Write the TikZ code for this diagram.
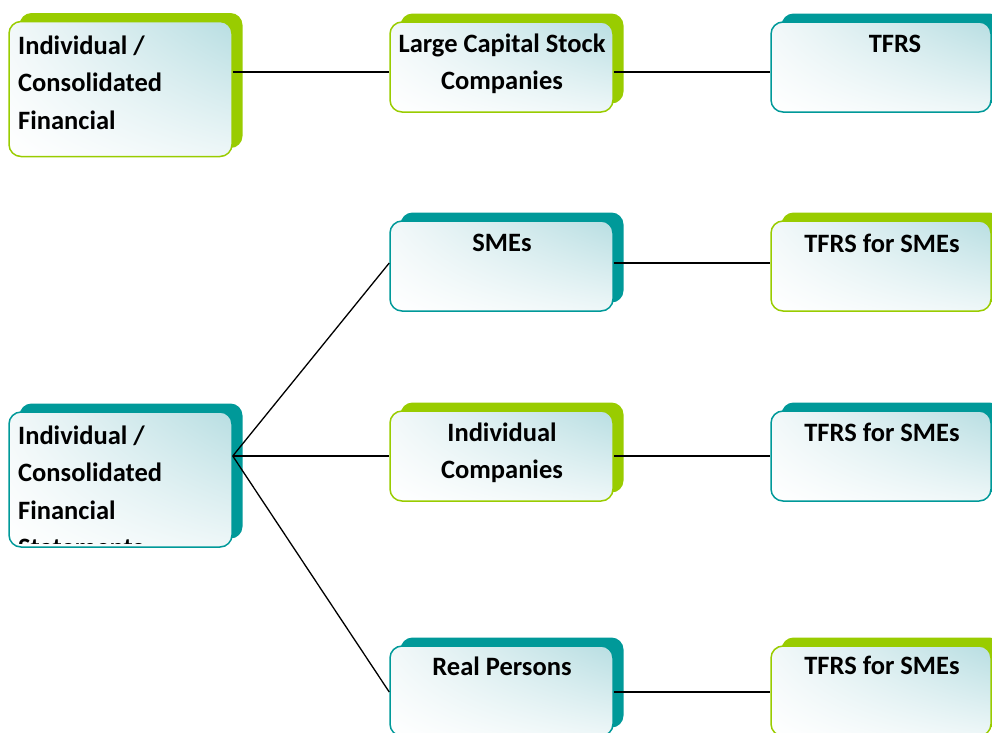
\documentclass[tikz,border=0pt]{standalone}
\usepackage{fontspec}
\setmainfont{Carlito}
\usetikzlibrary{shadows,shadings}

\definecolor{leafgreen}{RGB}{153,204,0}
\definecolor{seateal}{RGB}{0,153,153}
\definecolor{mistTR}{RGB}{184,222,226}
\definecolor{mistTL}{RGB}{242,248,249}
\definecolor{mistBR}{RGB}{238,247,248}

% multi-line labels whose baseline is the first line's
\newcommand{\leftlines}[1]{\vtop{\halign{##\hfil\cr#1\crcr}}}
\newcommand{\midlines}[1]{\vtop{\halign{\hfil##\hfil\cr#1\crcr}}}

\tikzset{
  card/.style={rounded corners=12pt, line width=1.5pt, inner sep=0pt,
    minimum width=223pt, minimum height=90pt,
    upper right=mistTR, upper left=mistTL, lower right=mistBR, lower left=white},
  greencard/.style={card, draw=leafgreen,
    copy shadow={shadow xshift=10.5pt, shadow yshift=8.5pt, fill=leafgreen, draw=none}},
  tealcard/.style={card, draw=seateal,
    copy shadow={shadow xshift=10.5pt, shadow yshift=8.5pt, fill=seateal, draw=none}},
  tallcard/.style={minimum height=135pt},
  rightcard/.style={minimum width=220pt},
  cardtext/.style={font=\fontsize{26.5}{37.5}\selectfont\bfseries, inner sep=0pt, text=black},
  link/.style={draw=black, line width=1.3pt}
}

\begin{document}
\begin{tikzpicture}[x=1pt, y=-1pt]
  \useasboundingbox (0,0) rectangle (992,732);
  \clip (0,0) rectangle (992,732);

  % left column
  \node[greencard, tallcard] (L1) at (120.5,89) {};
  \node[tealcard, tallcard] (L2) at (120.5,479.5) {};

  % middle column
  \node[greencard] (M1) at (501.5,67) {};
  \node[tealcard] (M2) at (501.5,266) {};
  \node[greencard] (M3) at (501.5,456) {};
  \node[tealcard] (M4) at (501.5,691) {};

  % right column
  \node[tealcard, rightcard] (R1) at (881,67) {};
  \node[greencard, rightcard] (R2) at (881,266) {};
  \node[tealcard, rightcard] (R3) at (881,456) {};
  \node[greencard, rightcard] (R4) at (881,691) {};

  % labels
  \node[cardtext, anchor=base west] (tL1) at (18,54)
    {\leftlines{Individual /\cr Consolidated\cr Financial}};
  \begin{scope}
    % the last line runs past the card's lower edge
    \clip ([yshift=4pt]L2.south west) rectangle (L2.north east);
    \node[cardtext, anchor=base west] (tL2) at (18,444)
      {\leftlines{Individual /\cr Consolidated\cr Financial\cr Statements}};
  \end{scope}
  \node[cardtext, anchor=base] (tM1) at (502,52) {\midlines{Large Capital Stock\cr Companies}};
  \node[cardtext, anchor=base] (tM2) at (502,251) {SMEs};
  \node[cardtext, anchor=base] (tM3) at (502,441) {\midlines{Individual\cr Companies}};
  \node[cardtext, anchor=base] (tM4) at (502,675) {Real Persons};
  \node[cardtext, anchor=base] (tR1) at (895,52) {TFRS};
  \node[cardtext, anchor=base] (tR2) at (882,252) {TFRS for SMEs};
  \node[cardtext, anchor=base] (tR3) at (882,441) {TFRS for SMEs};
  \node[cardtext, anchor=base] (tR4) at (882,674) {TFRS for SMEs};

  % connectors
  \draw[link] ([yshift=17pt]L1.east) -- ([yshift=-5pt]M1.west);
  \draw[link] ([yshift=-5pt]M1.east) -- ([yshift=-5pt]R1.west);
  \draw[link] ([yshift=23.5pt]L2.east) -- ([yshift=3pt]M2.west);
  \draw[link] ([yshift=23.5pt]L2.east) -- (M3.west);
  \draw[link] ([yshift=23.5pt]L2.east) -- ([yshift=-1pt]M4.west);
  \draw[link] ([yshift=3pt]M2.east) -- ([yshift=3pt]R2.west);
  \draw[link] (M3.east) -- (R3.west);
  \draw[link] ([yshift=-1pt]M4.east) -- ([yshift=-1pt]R4.west);
\end{tikzpicture}
\end{document}
